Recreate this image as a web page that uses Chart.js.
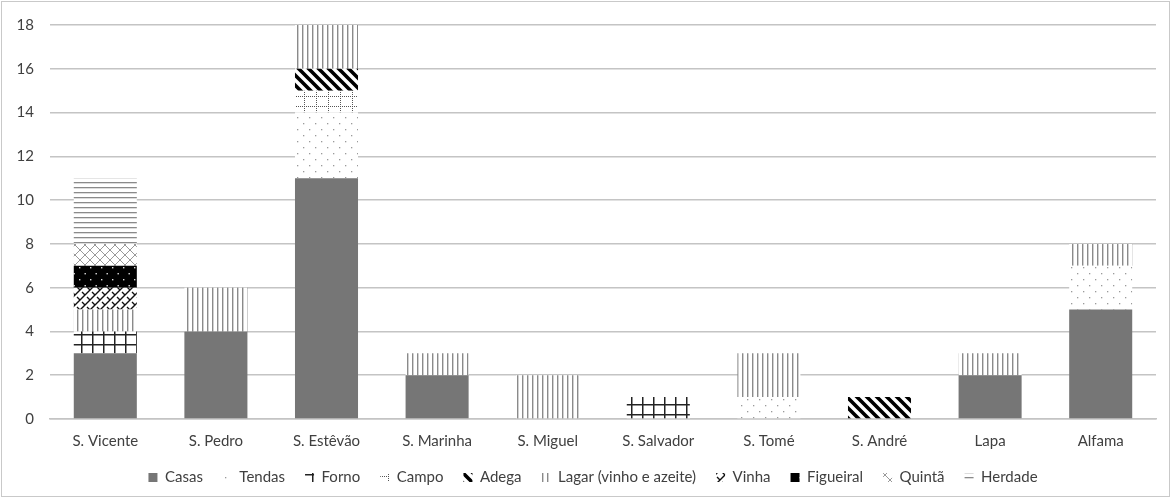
<!DOCTYPE html>
<html>
<head>
<meta charset="utf-8">
<script src="https://cdn.jsdelivr.net/npm/chart.js@4"></script>
<style>
 html,body{margin:0;padding:0;background:#fff;}
 #wrap{width:1172px;height:499px;position:relative;}
</style>
</head>
<body>
<div id="wrap"><canvas id="chart" width="1172" height="499"></canvas></div>
<script>
// categories + series (one value per category)
const freguesias = ["S. Vicente","S. Pedro","S. Estêvão","S. Marinha","S. Miguel","S. Salvador","S. Tomé","S. André","Lapa","Alfama"];
const casas     = [3,4,11,2,0,0,0,0,2,5];
const tendas    = [0,0,3,0,0,0,1,0,0,2];
const forno     = [1,0,0,0,0,1,0,0,0,0];
const campo     = [0,0,1,0,0,0,0,0,0,0];
const adega     = [0,0,1,0,0,0,0,1,0,0];
const lagar     = [1,2,2,1,2,0,2,0,1,1];
const vinha     = [1,0,0,0,0,0,0,0,0,0];
const figueiral = [1,0,0,0,0,0,0,0,0,0];
const quinta    = [1,0,0,0,0,0,0,0,0,0];
const herdade   = [3,0,0,0,0,0,0,0,0,0];
const yTicks = [0,2,4,6,8,10,12,14,16,18];

// little pattern tiles, Excel style
function tile(w,h,draw){
 let c=document.createElement('canvas');c.width=w;c.height=h;
 let g=c.getContext('2d');g.fillStyle='#fff';g.fillRect(0,0,w,h);draw(g);
 return g.createPattern(c,'repeat');
}
const pat={
 casas:'#767676',
 tendas:tile(12,12,g=>{g.fillStyle='#9a9a9a';g.fillRect(3,3,1.3,1.3);g.fillRect(9,9,1.3,1.3);}),
 forno:tile(11,10,g=>{g.fillStyle='#222';g.fillRect(4,0,1.5,10);g.fillRect(0,4,11,1.5);}),
 campo:tile(12,10,g=>{g.fillStyle='#555';for(let y=0;y<10;y+=2)g.fillRect(4,y,1,1);for(let x=0;x<12;x+=2)g.fillRect(x,6,1,1);}),
 adega:tile(10,10,g=>{g.strokeStyle='#000';g.lineWidth=3.6;g.beginPath();
  g.moveTo(-5,-5);g.lineTo(15,15);g.moveTo(-5,5);g.lineTo(5,15);g.moveTo(5,-5);g.lineTo(15,5);g.stroke();}),
 lagar:tile(5,10,g=>{g.fillStyle='#8a8a8a';g.fillRect(2,0,1.4,10);}),
 vinha:tile(10,10,g=>{g.strokeStyle='#111';g.lineWidth=1.4;g.beginPath();
  g.moveTo(0,10);g.lineTo(10,0);g.moveTo(-5,5);g.lineTo(5,-5);g.moveTo(5,15);g.lineTo(15,5);
  g.moveTo(2,2);g.lineTo(5,5);g.moveTo(7,7);g.lineTo(10,10);g.stroke();}),
 figueiral:tile(11,12,g=>{g.fillStyle='#000';g.fillRect(0,0,11,12);g.fillStyle='#ddd';g.fillRect(2,3,1.4,1.4);g.fillRect(7.5,9,1.4,1.4);}),
 quinta:tile(10,10,g=>{g.strokeStyle='#999';g.lineWidth=1;g.beginPath();
  g.moveTo(0,0);g.lineTo(10,10);g.moveTo(0,10);g.lineTo(10,0);g.stroke();}),
 herdade:tile(10,5,g=>{g.fillStyle='#8a8a8a';g.fillRect(0,2,10,1.3);})
};

const series=[
 ["Casas",casas,pat.casas],["Tendas",tendas,pat.tendas],["Forno",forno,pat.forno],["Campo",campo,pat.campo],
 ["Adega",adega,pat.adega],["Lagar (vinho e azeite)",lagar,pat.lagar],["Vinha",vinha,pat.vinha],
 ["Figueiral",figueiral,pat.figueiral],["Quintã",quinta,pat.quinta],["Herdade",herdade,pat.herdade]
];

const frame={id:'frame',
 afterLayout(c){ if(c.legend){c.legend.left+=10;c.legend.right+=10;} }, // legend sits a bit right of centre
 afterDraw(c){let x=c.ctx;x.save();x.strokeStyle='#c9c9c9';x.lineWidth=1;x.strokeRect(1.5,1.5,1168,495);x.restore();}};

Chart.defaults.font.family="Lato, 'Liberation Sans', sans-serif";
Chart.defaults.color='#595959';

new Chart(document.getElementById('chart'),{
 type:'bar',
 data:{labels:freguesias,
  datasets:series.map(s=>({label:s[0],data:s[1],backgroundColor:s[2],borderWidth:0,
   barPercentage:0.57,categoryPercentage:1}))},
 options:{
  responsive:false,animation:false,
  layout:{padding:{top:16,right:16,left:10,bottom:4}},
  plugins:{
   tooltip:{enabled:false},
   legend:{position:'bottom',labels:{boxWidth:9,boxHeight:9,padding:20,font:{size:15},color:'#404040'}}
  },
  scales:{
   x:{stacked:true,grid:{display:false},border:{color:'#c4c4c4',width:1.5},
    afterFit(s){s.height=31;},
    ticks:{font:{size:15},padding:5,maxRotation:0,color:'#404040'}},
   y:{stacked:true,min:0,max:18,
    afterFit(s){s.width=40;},
    afterBuildTicks(s){s.ticks=yTicks.map(v=>({value:v}));},
    grid:{color:'#c4c4c4',lineWidth:1.5,drawTicks:false},border:{display:false},
    ticks:{font:{size:15},padding:16,color:'#404040'}}
  }
 },
 plugins:[frame]
});
</script>
</body>
</html>
